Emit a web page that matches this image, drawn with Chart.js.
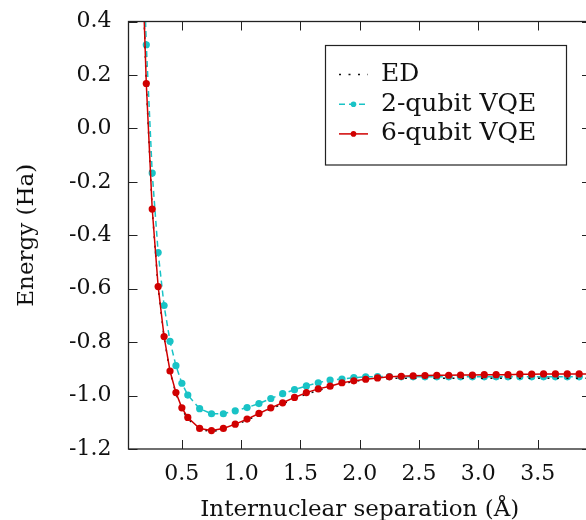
<!DOCTYPE html>
<html>
<head>
<meta charset="utf-8">
<script src="https://cdn.jsdelivr.net/npm/chart.js@4.4.1/dist/chart.umd.min.js"></script>
<style>
    html, body { margin: 0; padding: 0; background: #fff; overflow: hidden; }
    #caixa { width: 586px; height: 520px; overflow: hidden; }
</style>
</head>
<body>
<div id="caixa"><canvas id="graficoEnergia" width="596" height="520"></canvas></div>
<script>
// distancia internuclear (Angstrom)
const distancias = [0.15, 0.2, 0.25, 0.3, 0.35, 0.4, 0.45, 0.5, 0.55, 0.65, 0.75, 0.85, 0.95,
    1.05, 1.15, 1.25, 1.35, 1.45, 1.55, 1.65, 1.75, 1.85, 1.95, 2.05, 2.15, 2.25, 2.35, 2.45,
    2.55, 2.65, 2.75, 2.85, 2.95, 3.05, 3.15, 3.25, 3.35, 3.45, 3.55, 3.65, 3.75, 3.85, 3.95];

// energias (Ha)
const energiaED = [0.84, 0.164, -0.305, -0.596, -0.783, -0.911, -0.993, -1.050, -1.087, -1.127, -1.135, -1.127, -1.111,
    -1.092, -1.071, -1.050, -1.031, -1.012, -0.995, -0.981, -0.968, -0.956, -0.947, -0.941, -0.938, -0.936, -0.935, -0.935,
    -0.935, -0.935, -0.935, -0.935, -0.935, -0.935, -0.935, -0.935, -0.935, -0.935, -0.935, -0.935, -0.935, -0.935, -0.935];

const energia2q = [1.0, 0.313, -0.167, -0.465, -0.663, -0.797, -0.888, -0.954, -0.998, -1.049, -1.068, -1.068, -1.057,
    -1.045, -1.030, -1.011, -0.993, -0.978, -0.964, -0.952, -0.942, -0.938, -0.933, -0.930, -0.929, -0.929, -0.930, -0.930,
    -0.930, -0.930, -0.930, -0.930, -0.930, -0.930, -0.930, -0.930, -0.930, -0.930, -0.930, -0.930, -0.930, -0.930, -0.930];

const energia6q = [0.85, 0.168, -0.302, -0.592, -0.779, -0.908, -0.989, -1.046, -1.082, -1.123, -1.131, -1.123, -1.107,
    -1.088, -1.067, -1.046, -1.027, -1.007, -0.989, -0.975, -0.965, -0.952, -0.945, -0.939, -0.934, -0.930, -0.928, -0.926,
    -0.925, -0.924, -0.924, -0.923, -0.923, -0.922, -0.922, -0.922, -0.920, -0.920, -0.919, -0.919, -0.919, -0.919, -0.919];

const ticksX = [0.5, 1.0, 1.5, 2.0, 2.5, 3.0, 3.5];
const ticksY = [-1.2, -1.0, -0.8, -0.6, -0.4, -0.2, 0.0, 0.2, 0.4];

const fonte = "'DejaVu Serif', serif";

function pontos(valores){
    return distancias.map((d, i) => ({ x: d, y: valores[i] }));
}

function rotulo(v){
    if(Math.abs(v) < 1e-9) v = 0;
    return v.toFixed(1);
}

// moldura e tracinhos para dentro nos quatro lados
const moldura = {
    id: "moldura",
    afterDraw(chart){
        const ctx = chart.ctx;
        const a = chart.chartArea;
        const sx = chart.scales.x;
        const sy = chart.scales.y;

        ctx.save();
        ctx.strokeStyle = "#222";
        ctx.lineWidth = 1;
        ctx.beginPath();
        ticksX.forEach(v => {
            const px = Math.round(sx.getPixelForValue(v)) + 0.5;
            ctx.moveTo(px, a.bottom);
            ctx.lineTo(px, a.bottom - 9);
            ctx.moveTo(px, a.top);
            ctx.lineTo(px, a.top + 9);
        });
        ticksY.forEach(v => {
            const py = Math.round(sy.getPixelForValue(v)) + 0.5;
            ctx.moveTo(a.left, py);
            ctx.lineTo(a.left + 9, py);
            ctx.moveTo(a.right, py);
            ctx.lineTo(a.right - 9, py);
        });
        ctx.stroke();

        ctx.lineWidth = 1.3;
        ctx.strokeRect(a.left, a.top, a.right - a.left, a.bottom - a.top);
        ctx.restore();
    }
};

// legenda desenhada dentro da area do grafico
const legenda = {
    id: "legenda",
    afterDraw(chart){
        const ctx = chart.ctx;
        const x0 = 325.5, y0 = 45.5, larg = 241, alt = 119.5;

        ctx.save();
        ctx.fillStyle = "#fff";
        ctx.fillRect(x0, y0, larg, alt);
        ctx.strokeStyle = "#222";
        ctx.lineWidth = 1.2;
        ctx.strokeRect(x0, y0, larg, alt);

        chart.data.datasets.forEach((ds, i) => {
            const y = 74.5 + i * 29.7;

            ctx.strokeStyle = ds.borderColor;
            ctx.lineWidth = ds.borderWidth;
            ctx.setLineDash(ds.borderDash || []);
            ctx.beginPath();
            ctx.moveTo(339, y);
            ctx.lineTo(368, y);
            ctx.stroke();
            ctx.setLineDash([]);

            if(ds.pointRadius > 0){
                ctx.fillStyle = ds.pointBackgroundColor;
                ctx.beginPath();
                ctx.arc(353.5, y, 2.8, 0, Math.PI * 2);
                ctx.fill();
            }

            ctx.fillStyle = "#111";
            ctx.font = "25px " + fonte;
            ctx.textBaseline = "middle";
            ctx.textAlign = "left";
            ctx.fillText(ds.label, 381, y);
        });
        ctx.restore();
    }
};

const ctx = document.getElementById("graficoEnergia");

new Chart(ctx, {
    type: "line",
    data: {
        datasets: [
            {
                label: "ED",
                data: pontos(energiaED),
                borderColor: "#111",
                borderWidth: 1.5,
                borderDash: [2, 7.5],
                pointRadius: 0,
                order: 1,
                clip: 0
            },
            {
                label: "2-qubit VQE",
                data: pontos(energia2q),
                borderColor: "#19c3c6",
                borderWidth: 1.5,
                borderDash: [6, 4],
                pointRadius: 3.6,
                pointBorderWidth: 0,
                pointBackgroundColor: "#19c3c6",
                order: 2,
                clip: 0
            },
            {
                label: "6-qubit VQE",
                data: pontos(energia6q),
                borderColor: "#d00000",
                borderWidth: 1.5,
                pointRadius: 3.6,
                pointBorderWidth: 0,
                pointBackgroundColor: "#d00000",
                order: 0,
                clip: 0
            }
        ]
    },
    options: {
        responsive: false,
        devicePixelRatio: 1,
        animation: false,
        events: [],
        layout: { padding: { top: 21.5, right: 5, bottom: 0, left: 0 } },
        plugins: {
            legend: { display: false },
            tooltip: { enabled: false }
        },
        scales: {
            x: {
                type: "linear",
                min: 0.05,
                max: 3.95,
                afterBuildTicks: s => { s.ticks = ticksX.map(v => ({ value: v })); },
                afterFit: s => { s.height = 71; },
                grid: { display: false, drawTicks: false },
                border: { display: false },
                ticks: {
                    padding: 12,
                    color: "#111",
                    font: { family: fonte, size: 22 },
                    maxRotation: 0,
                    callback: v => rotulo(v)
                },
                title: {
                    display: true,
                    text: "Internuclear separation (Å)",
                    color: "#111",
                    font: { family: fonte, size: 23, lineHeight: 0.87 },
                    padding: { top: 0, bottom: 0 }
                }
            },
            y: {
                min: -1.2,
                max: 0.4,
                afterBuildTicks: s => { s.ticks = ticksY.map(v => ({ value: v })); },
                afterFit: s => { s.width = 128.5; },
                grid: { display: false, drawTicks: false },
                border: { display: false },
                ticks: {
                    padding: 17,
                    color: "#111",
                    // lineHeight baixo so para o rotulo do topo nao empurrar a area do grafico
                    font: { family: fonte, size: 22, lineHeight: 0.3 },
                    callback: v => rotulo(v)
                },
                title: {
                    display: true,
                    text: "Energy (Ha)",
                    color: "#111",
                    font: { family: fonte, size: 23, lineHeight: 0.87 },
                    padding: { top: 17, bottom: 0 }
                }
            }
        }
    },
    plugins: [moldura, legenda]
});
</script>
</body>
</html>
